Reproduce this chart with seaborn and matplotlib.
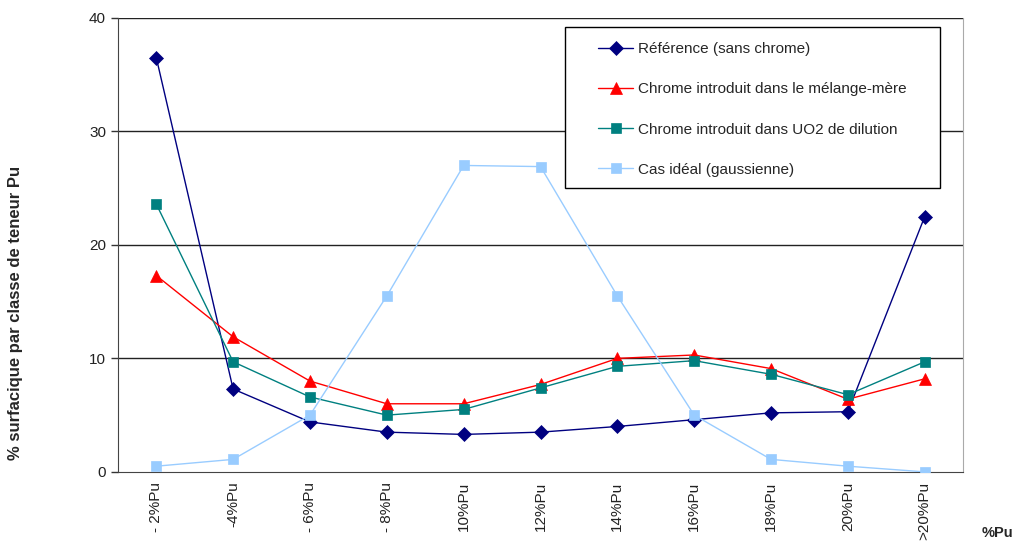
import pandas as pd
import matplotlib.pyplot as plt
import matplotlib.patches as mpatches
import seaborn as sns

# --- data ---
categories = ['- 2%Pu', '-4%Pu', '- 6%Pu', '- 8%Pu', '10%Pu', '12%Pu',
              '14%Pu', '16%Pu', '18%Pu', '20%Pu', '>20%Pu']

reference = [36.5, 7.3, 4.4, 3.5, 3.3, 3.5, 4.0, 4.6, 5.2, 5.3, 22.5]
melange_mere = [17.3, 11.9, 8.0, 6.0, 6.0, 7.7, 10.0, 10.3, 9.1, 6.4, 8.2]
uo2_dilution = [23.6, 9.7, 6.6, 5.0, 5.5, 7.4, 9.3, 9.8, 8.6, 6.8, 9.7]
gaussienne = [0.5, 1.1, 5.0, 15.5, 27.0, 26.9, 15.5, 5.0, 1.1, 0.5, 0.0]

series_names = ['Référence (sans chrome)',
                'Chrome introduit dans le mélange-mère',
                'Chrome introduit dans UO2 de dilution',
                'Cas idéal (gaussienne)']
series_values = [reference, melange_mere, uo2_dilution, gaussienne]

rows = []
for name, vals in zip(series_names, series_values):
    for i, v in enumerate(vals):
        rows.append({'serie': name, 'x': i, 'valeur': v})
df = pd.DataFrame(rows)

sns.set_style("white")
plt.rcParams['font.family'] = ['Liberation Sans', 'DejaVu Sans']

palette = {series_names[0]: '#000080', series_names[1]: '#FF0000',
           series_names[2]: '#008080', series_names[3]: '#99CCFF'}
markers = {series_names[0]: 'D', series_names[1]: '^',
           series_names[2]: 's', series_names[3]: 's'}
msize = {series_names[0]: 7.5, series_names[1]: 9.0,
         series_names[2]: 7.5, series_names[3]: 7.5}

fig = plt.figure(figsize=(10.16, 5.43), dpi=100)
ax = fig.add_axes([0.116, 0.131, 0.832, 0.836])

for name in series_names:
    sns.lineplot(data=df[df['serie'] == name], x='x', y='valeur', ax=ax,
                 color=palette[name], marker=markers[name],
                 markersize=msize[name], markeredgewidth=0.5,
                 markeredgecolor=palette[name], linewidth=1.0,
                 label=name, zorder=3)

ax.set_xlim(-0.5, len(categories) - 0.5)
ax.set_ylim(0, 40)
ax.set_yticks([0, 10, 20, 30, 40])
ax.set_yticklabels(['0', '10', '20', '30', '40'], fontsize=11, color='#222222')
ax.set_xticks(range(len(categories)))
ax.set_xticklabels(categories, rotation=90, fontsize=11, va='top', color='#222222')
ax.set_xticks([i - 0.5 for i in range(len(categories) + 1)], minor=True)
ax.tick_params(axis='x', which='major', length=0, pad=7)
ax.tick_params(axis='x', which='minor', length=5, width=1, direction='out', color='#333333')
ax.tick_params(axis='y', length=5, width=1, direction='out', color='#333333', left=True)

for yv in [10, 20, 30, 40]:
    ax.axhline(yv, color='#222222', linewidth=1.0, zorder=1)

ax.spines['left'].set_color('#444444')
ax.spines['bottom'].set_color('#444444')
ax.spines['top'].set_visible(False)
ax.spines['right'].set_color('#aaaaaa')

ax.set_xlabel('')
ax.set_ylabel('')
fig.text(0.015, 1 - 313 / 543, '% surfacique par classe de teneur Pu', rotation=90,
         fontsize=12, fontweight='bold', ha='center', va='center')
fig.text(0.982, 1 - 533 / 543, '%Pu', fontsize=10.5, fontweight='bold',
         ha='center', va='center')

# legend box drawn separately, entries placed inside it
box = mpatches.Rectangle((0.529, 0.626), 0.444, 0.354, transform=ax.transAxes,
                         facecolor='white', edgecolor='black', linewidth=1.0,
                         zorder=4)
ax.add_patch(box)
leg = ax.legend(loc='upper left', bbox_to_anchor=(0.568, 0.947), fontsize=11,
                frameon=False, borderpad=0, labelspacing=1.72, handlelength=2.3,
                handletextpad=0.3, borderaxespad=0)
leg.set_zorder(5)

plt.savefig('out.png', dpi=100)
plt.close()
